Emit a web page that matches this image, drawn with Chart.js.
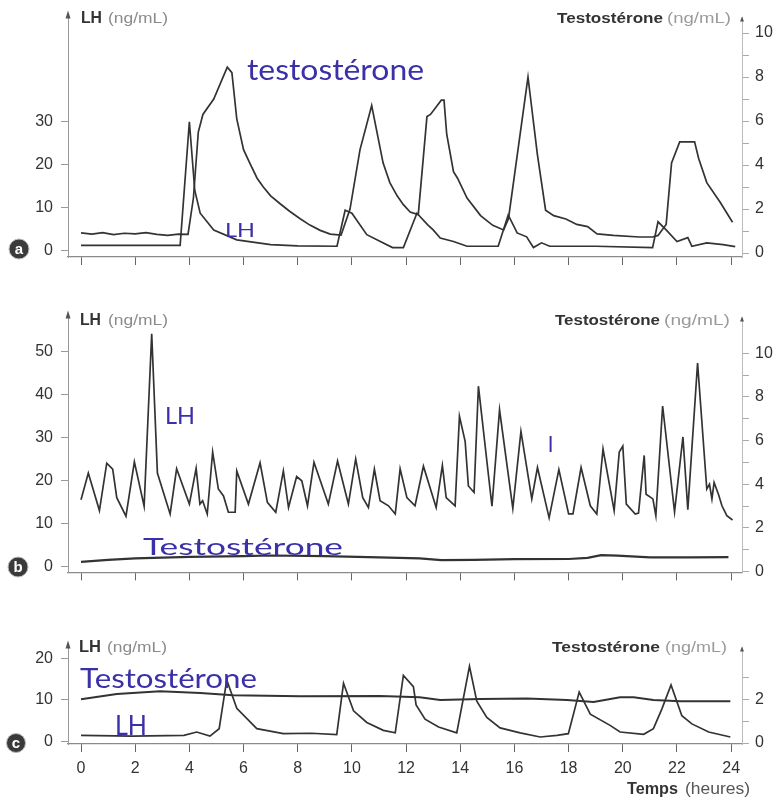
<!DOCTYPE html>
<html>
<head>
<meta charset="utf-8">
<script src="https://cdn.jsdelivr.net/npm/chart.js@4.4.1/dist/chart.umd.min.js"></script>
<style>
  body { margin: 0; background: #fff; }
  #page { position: relative; width: 776px; height: 801px; overflow: hidden; }
  canvas { position: absolute; left: 0; }
  svg { position: absolute; left: 0; top: 0; }
</style>
</head>
<body>
<div id="page">
  <canvas id="chartA" width="776" height="275" style="top:0px"></canvas>
  <canvas id="chartB" width="776" height="290" style="top:300px"></canvas>
  <canvas id="chartC" width="776" height="171" style="top:630px"></canvas>

  <svg width="776" height="801" font-family="Liberation Sans, Arial, sans-serif">
    <!-- axis titles -->
    <g font-size="15">
      <text x="81" y="23" font-size="16" font-weight="bold" fill="#333" textLength="21" lengthAdjust="spacingAndGlyphs">LH</text>
      <text x="108" y="23" fill="#8a8a8a" textLength="60" lengthAdjust="spacingAndGlyphs">(ng/mL)</text>
      <text x="557" y="23" font-weight="bold" fill="#333" textLength="106" lengthAdjust="spacingAndGlyphs">Testostérone</text>
      <text x="667" y="23" fill="#9a9a9a" textLength="64" lengthAdjust="spacingAndGlyphs">(ng/mL)</text>

      <text x="80" y="325" font-size="16" font-weight="bold" fill="#333" textLength="21" lengthAdjust="spacingAndGlyphs">LH</text>
      <text x="108" y="325" fill="#8a8a8a" textLength="60" lengthAdjust="spacingAndGlyphs">(ng/mL)</text>
      <text x="555" y="325" font-weight="bold" fill="#333" textLength="105" lengthAdjust="spacingAndGlyphs">Testostérone</text>
      <text x="664" y="325" fill="#9a9a9a" textLength="66" lengthAdjust="spacingAndGlyphs">(ng/mL)</text>

      <text x="79" y="652" font-size="16" font-weight="bold" fill="#333" textLength="22" lengthAdjust="spacingAndGlyphs">LH</text>
      <text x="107" y="652" fill="#8a8a8a" textLength="60" lengthAdjust="spacingAndGlyphs">(ng/mL)</text>
      <text x="552" y="652" font-weight="bold" fill="#333" textLength="108" lengthAdjust="spacingAndGlyphs">Testostérone</text>
      <text x="665" y="652" fill="#9a9a9a" textLength="62" lengthAdjust="spacingAndGlyphs">(ng/mL)</text>
    </g>
    <g font-size="16">
      <text x="627" y="794" font-weight="bold" fill="#333" textLength="51" lengthAdjust="spacingAndGlyphs">Temps</text>
      <text x="685" y="794" fill="#555" textLength="65" lengthAdjust="spacingAndGlyphs">(heures)</text>
    </g>

    <!-- panel markers -->
    <g font-size="15" font-weight="bold" text-anchor="middle">
      <circle cx="19" cy="249" r="10" fill="#3a3a3a" stroke="#bbb" stroke-width="1"/>
      <text x="19" y="254" fill="#fff">a</text>
      <circle cx="18" cy="567" r="10" fill="#3a3a3a" stroke="#bbb" stroke-width="1"/>
      <text x="18" y="572" fill="#fff">b</text>
      <circle cx="16" cy="743" r="9.5" fill="#3a3a3a" stroke="#bbb" stroke-width="1"/>
      <text x="16" y="748" fill="#fff">c</text>
    </g>

    <!-- handwritten notes -->
    <g fill="#3b30a8" font-family="Lato, 'DejaVu Sans', sans-serif">
      <text x="247" y="80" font-size="28" textLength="177" lengthAdjust="spacingAndGlyphs">testostérone</text>
      <text x="225" y="237" font-size="19" textLength="30" lengthAdjust="spacingAndGlyphs">LH</text>
      <text x="165" y="424" font-size="24" textLength="30" lengthAdjust="spacingAndGlyphs">LH</text>
      <text x="143" y="555" font-size="24" textLength="200" lengthAdjust="spacingAndGlyphs">Testostérone</text>
      <text x="548" y="452" font-size="22">l</text>
      <text x="80" y="688" font-size="26" textLength="177" lengthAdjust="spacingAndGlyphs">Testostérone</text>
      <text x="115" y="735" font-size="26" textLength="32" lengthAdjust="spacingAndGlyphs">LH</text>
    </g>
  </svg>
</div>

<script>
// hour ticks shared by all panels
const hourTicks = [0, 2, 4, 6, 8, 10, 12, 14, 16, 18, 20, 22, 24];

// panel a
const aLhHours = [0, 3.66, 4.0, 4.2, 4.4, 4.9, 5.75, 7.0, 8.0, 9.45, 9.75, 10.0, 10.55, 11.05, 11.5, 11.9, 12.4, 12.8, 13.0, 13.26, 13.75, 14.25, 15.4, 15.77, 16.1, 16.45, 16.7, 17.0, 17.3, 19.0, 21.1, 21.3, 21.6, 22.0, 22.4, 22.55, 23.1, 23.7, 24.15];
const aLhValues = [1.2, 1.2, 30, 14, 8.7, 4.8, 2.5, 1.4, 1.1, 1.0, 9.4, 8.7, 3.7, 2.1, 0.7, 0.7, 8.7, 6.0, 4.8, 2.9, 2.1, 1.0, 1.0, 8.3, 4.1, 3.2, 0.7, 1.8, 1.0, 1.0, 0.7, 6.7, 4.8, 2.1, 3.0, 1.0, 1.8, 1.4, 0.9];
const aTestoHours = [0, 0.4, 0.8, 1.2, 1.6, 2.0, 2.4, 2.8, 3.2, 3.6, 3.95, 4.15, 4.33, 4.5, 4.9, 5.4, 5.57, 5.75, 6.0, 6.24, 6.5, 6.73, 7.0, 7.35, 7.7, 8.09, 8.45, 8.83, 9.2, 9.6, 9.93, 10.3, 10.73, 11.15, 11.4, 11.67, 11.9, 12.15, 12.45, 12.77, 12.9, 13.3, 13.4, 13.5, 13.75, 13.9, 14.25, 14.75, 15.2, 15.6, 15.78, 16.5, 16.85, 17.15, 17.45, 17.9, 18.3, 18.7, 19.05, 19.65, 20.6, 21.1, 21.3, 21.6, 21.8, 22.1, 22.65, 22.8, 23.1, 23.6, 24.05];
const aTestoValues = [0.92, 0.86, 0.93, 0.84, 0.9, 0.87, 0.93, 0.85, 0.8, 0.86, 0.85, 2.5, 5.5, 6.3, 7.0, 8.45, 8.2, 6.1, 4.7, 4.06, 3.4, 3.0, 2.6, 2.24, 1.9, 1.56, 1.27, 1.03, 0.86, 0.82, 2.0, 4.7, 6.7, 4.1, 3.2, 2.6, 2.2, 1.86, 1.75, 6.2, 6.3, 6.95, 6.95, 5.4, 3.7, 3.4, 2.5, 1.7, 1.26, 1.05, 1.56, 8.0, 4.45, 1.95, 1.7, 1.55, 1.3, 1.2, 0.87, 0.8, 0.73, 0.73, 0.8, 1.3, 4.1, 5.05, 5.05, 4.3, 3.2, 2.3, 1.4];
const aLhTicks = [0, 10, 20, 30];
const aTestoTicks = [0, 1, 2, 3, 4, 5, 6, 7, 8, 9, 10];

// panel b
const bLhHours = [0, 0.27, 0.68, 0.95, 1.17, 1.32, 1.66, 1.97, 2.33, 2.61, 2.82, 3.29, 3.53, 4.0, 4.25, 4.39, 4.49, 4.66, 4.86, 5.07, 5.26, 5.44, 5.69, 5.75, 6.18, 6.61, 6.88, 7.19, 7.47, 7.66, 7.96, 8.15, 8.36, 8.6, 9.13, 9.47, 9.87, 10.14, 10.4, 10.61, 10.83, 11.04, 11.35, 11.6, 11.78, 12.03, 12.33, 12.64, 13.11, 13.34, 13.48, 13.81, 13.97, 14.18, 14.3, 14.51, 14.67, 15.17, 15.45, 15.94, 16.24, 16.64, 16.85, 17.28, 17.64, 18.0, 18.16, 18.46, 18.8, 19.04, 19.27, 19.68, 19.87, 20.0, 20.13, 20.46, 20.58, 20.79, 20.86, 21.11, 21.22, 21.47, 21.91, 22.22, 22.4, 22.76, 23.1, 23.2, 23.29, 23.37, 23.53, 23.66, 23.84, 24.05];
const bLhValues = [15.5, 21.7, 13.0, 24.0, 22.6, 16.0, 11.7, 24.3, 14.0, 54.1, 21.7, 12.2, 22.7, 14.5, 22.8, 14.5, 15.3, 12.2, 26.6, 18.0, 16.4, 12.6, 12.6, 22.2, 14.5, 24.1, 14.9, 12.6, 22.2, 13.7, 20.9, 19.9, 14.1, 24.2, 14.5, 24.5, 14.5, 25.0, 16.0, 13.7, 22.6, 15.3, 14.1, 12.2, 22.7, 16.0, 14.1, 23.3, 13.7, 23.5, 16.0, 14.1, 34.9, 29.1, 18.7, 17.2, 41.9, 14.0, 36.4, 13.5, 31.4, 15.7, 23.0, 11.3, 22.5, 12.2, 12.2, 23.0, 14.1, 12.2, 27.3, 13.0, 26.6, 28.0, 14.5, 12.2, 12.4, 25.8, 16.8, 15.7, 11.8, 37.3, 12.7, 30.1, 13.2, 47.3, 18.0, 19.1, 15.7, 19.5, 16.8, 14.1, 11.8, 10.8];
const bTestoHours = [0, 1, 2, 4, 6, 7, 9, 11, 12.5, 13.3, 14.5, 16, 18, 18.7, 19.2, 19.8, 21, 22.5, 23.9];
const bTestoValues = [0.44, 0.53, 0.6, 0.67, 0.7, 0.73, 0.7, 0.64, 0.6, 0.52, 0.53, 0.56, 0.57, 0.62, 0.75, 0.72, 0.64, 0.64, 0.66];
const bLhTicks = [0, 10, 20, 30, 40, 50];
const bTestoTicks = [0, 1, 2, 3, 4, 5, 6, 7, 8, 9, 10];

// panel c
const cLhHours = [0, 1.9, 3.8, 4.27, 4.76, 5.1, 5.38, 5.75, 6.49, 7.47, 8.5, 9.44, 9.69, 10.06, 10.55, 11.16, 11.6, 11.9, 12.27, 12.37, 12.7, 13.2, 13.87, 14.34, 14.61, 14.98, 15.47, 16.21, 16.95, 17.57, 17.99, 18.39, 18.8, 19.53, 19.9, 20.77, 21.13, 21.44, 21.78, 22.18, 22.55, 23.17, 23.97];
const cLhValues = [1.5, 1.3, 1.5, 2.3, 1.3, 3.1, 14.8, 8.0, 3.1, 1.9, 2.0, 1.7, 14.0, 7.4, 4.6, 2.7, 2.1, 15.9, 13.2, 8.8, 5.4, 3.5, 2.1, 18.1, 9.7, 5.8, 3.3, 2.1, 1.1, 1.5, 1.9, 11.9, 6.6, 3.9, 2.3, 1.75, 3.1, 7.8, 13.6, 6.2, 4.25, 2.3, 1.1];
const cTestoHours = [0, 1.32, 2.92, 4.4, 5.62, 8.1, 11.04, 12.5, 13.26, 14.73, 16.46, 17.94, 18.92, 19.9, 20.4, 21.13, 22.12, 23.97];
const cTestoValues = [2.0, 2.24, 2.36, 2.28, 2.18, 2.13, 2.15, 2.09, 1.96, 2.01, 2.03, 1.96, 1.87, 2.09, 2.09, 1.96, 1.91, 1.91];
const cLhTicks = [0, 10, 20];
const cTestoTicks = [0, 1, 2, 3];

const fontFamily = '"Liberation Sans", Arial, sans-serif';

// small arrow heads on top of the two vertical axes
const arrowHeads = {
	id: "arrowHeads",
	afterDraw(chart) {
		const { ctx, chartArea } = chart;
		ctx.save();
		ctx.fillStyle = "#555";
		ctx.beginPath();
		ctx.moveTo(chartArea.left, chartArea.top - 7);
		ctx.lineTo(chartArea.left - 2.5, chartArea.top + 1);
		ctx.lineTo(chartArea.left + 2.5, chartArea.top + 1);
		ctx.fill();
		ctx.beginPath();
		ctx.moveTo(chartArea.right, chartArea.top - 1);
		ctx.lineTo(chartArea.right - 2, chartArea.top + 4);
		ctx.lineTo(chartArea.right + 2, chartArea.top + 4);
		ctx.fill();
		ctx.restore();
	},
};

const toPoints = (hours, values) => hours.map((h, i) => ({ x: h, y: values[i] }));

function makePanel(canvasId, p) {
	const line = {
		borderColor: "#333",
		borderWidth: 1.7,
		pointRadius: 0,
		tension: 0,
		fill: false,
	};
	return new Chart(document.getElementById(canvasId), {
		type: "line",
		data: {
			datasets: [
				{ data: toPoints(p.lhHours, p.lhValues), yAxisID: "yL", ...line },
				{ data: toPoints(p.testoHours, p.testoValues), yAxisID: "yR", ...line, borderWidth: p.testoWidth },
			],
		},
		options: {
			responsive: false,
			animation: false,
			layout: { padding: { top: p.top, left: 0, right: 0, bottom: 0 } },
			plugins: { legend: { display: false }, tooltip: { enabled: false } },
			scales: {
				x: {
					type: "linear",
					min: -0.48,
					max: 24.4,
					afterBuildTicks: (s) => { s.ticks = hourTicks.map((v) => ({ value: v })); },
					afterFit: (s) => { s.height = p.xHeight; },
					grid: { drawOnChartArea: false, drawTicks: true, tickLength: 8, color: "#666" },
					border: { color: "#8a8a8a", width: 1.2 },
					ticks: {
						display: p.showHours,
						autoSkip: false,
						maxRotation: 0,
						padding: 7,
						color: "#333",
						font: { family: fontFamily, size: 16 },
					},
				},
				yL: {
					position: "left",
					min: p.lhMin,
					max: p.lhMax,
					afterBuildTicks: (s) => { s.ticks = p.lhTicks.map((v) => ({ value: v })); },
					afterFit: (s) => { s.width = 68; },
					grid: { drawOnChartArea: false, tickLength: 7, color: "#999" },
					border: { color: "#999", width: 1 },
					ticks: { autoSkip: false, padding: 8, color: "#333", font: { family: fontFamily, size: 16 } },
				},
				yR: {
					position: "right",
					min: p.testoMin,
					max: p.testoMax,
					afterBuildTicks: (s) => { s.ticks = p.testoTicks.map((v) => ({ value: v })); },
					afterFit: (s) => { s.width = 34; },
					grid: { drawOnChartArea: false, tickLength: 7, color: "#aaa" },
					border: { color: "#bbb", width: 1, dash: [2, 3] },
					ticks: {
						autoSkip: false,
						padding: 6,
						color: "#333",
						font: { family: fontFamily, size: 16 },
						callback: (v) => (v % 2 === 0 ? v : ""),
					},
				},
			},
		},
		plugins: [arrowHeads],
	});
}

makePanel("chartA", {
	lhHours: aLhHours, lhValues: aLhValues, testoHours: aTestoHours, testoValues: aTestoValues,
	lhTicks: aLhTicks, testoTicks: aTestoTicks, testoWidth: 1.7,
	top: 15, xHeight: 18, showHours: false,
	lhMin: -1.5, lhMax: 54.26, testoMin: -0.18, testoMax: 10.7,
});

makePanel("chartB", {
	lhHours: bLhHours, lhValues: bLhValues, testoHours: bTestoHours, testoValues: bTestoValues,
	lhTicks: bLhTicks, testoTicks: bTestoTicks, testoWidth: 2.2,
	top: 17, xHeight: 16, showHours: false,
	lhMin: -1.38, lhMax: 57.84, testoMin: -0.045, testoMax: 11.64,
});

makePanel("chartC", {
	lhHours: cLhHours, lhValues: cLhValues, testoHours: cTestoHours, testoValues: cTestoValues,
	lhTicks: cLhTicks, testoTicks: cTestoTicks, testoWidth: 2.0,
	top: 15, xHeight: 57, showHours: true,
	lhMin: -0.58, lhMax: 22.58, testoMin: -0.044, testoMax: 4.356,
});
</script>
</body>
</html>
